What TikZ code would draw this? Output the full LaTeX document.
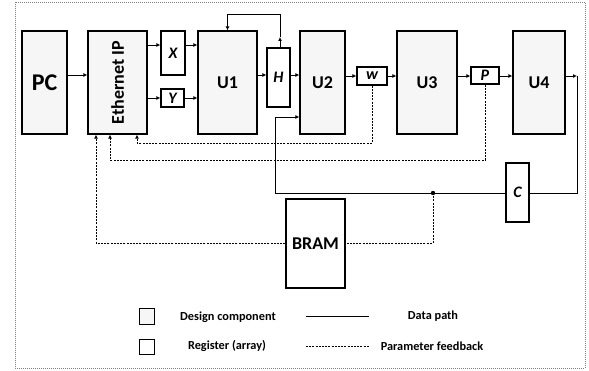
\documentclass[tikz,border=0pt]{standalone}
\usepackage{fontspec}
\setmainfont{Carlito}
\usetikzlibrary{arrows.meta}
\begin{document}
\begin{tikzpicture}[x=1pt,y=-1pt,
  box/.style={draw=black,line width=1.2pt,inner sep=0pt,font=\bfseries},
  comp/.style={box,fill=gray!7},
  reg/.style={box,fill=white,font=\bfseries\itshape\fontsize{16}{16}\selectfont},
  big/.style={font=\bfseries\fontsize{18}{18}\selectfont},
  conn/.style={line width=0.9pt,-{Latex[length=4pt,width=4pt]}},
  plain/.style={line width=0.9pt},
  fb/.style={line width=0.9pt,dash pattern=on 2pt off 1.2pt},
  fba/.style={fb,-{Latex[length=4pt,width=4pt]}},
  legtext/.style={font=\bfseries\fontsize{12.3}{12.3}\selectfont}]
\useasboundingbox (0,0) rectangle (589,371);
\draw[gray,line width=0.8pt,dash pattern=on 1pt off 1pt] (15,2) rectangle (585,368);

% components
\node[comp,minimum width=45pt,minimum height=103pt,font=\bfseries\fontsize{24}{24}\selectfont] (PC) at (44.5,82.5) {PC};
\node[comp,minimum width=59pt,minimum height=103pt] (Eth) at (117.5,82.5) {};
\node[rotate=90,font=\bfseries\fontsize{18}{18}\selectfont] (EthL) at (Eth.center) {Ethernet IP};
\node[reg,minimum width=24pt,minimum height=44pt] (X) at (173,53) {X};
\node[reg,minimum width=23pt,minimum height=18pt] (Y) at (172.5,98) {Y};
\node[comp,big,minimum width=59pt,minimum height=103pt] (U1) at (227.5,82.5) {U1};
\node[reg,minimum width=23pt,minimum height=59pt] (H) at (278.5,77.5) {H};
\node[comp,big,minimum width=45pt,minimum height=103pt] (U2) at (322.5,82.5) {U2};
\node[reg,minimum width=30pt,minimum height=18pt] (W) at (372,76) {w};
\node[comp,big,minimum width=60pt,minimum height=103pt] (U3) at (427,82.5) {U3};
\node[reg,minimum width=28pt,minimum height=17pt] (P) at (485,75.5) {P};
\node[comp,big,minimum width=52pt,minimum height=103pt] (U4) at (539,82.5) {U4};
\node[reg,minimum width=23pt,minimum height=59pt] (C) at (517.5,192.5) {C};
\node[box,fill=white,big,minimum width=59pt,minimum height=89pt] (BRAM) at (315.5,243.5) {BRAM};

% helper coordinates
\coordinate (yX) at (0,45);
\coordinate (yA) at (0,75);
\coordinate (yY) at (0,98);
\coordinate (yB) at (0,76);
\coordinate (Hup) at (280,37);
\coordinate (Htop) at (280,14);
\coordinate (out) at (577,76);
\coordinate (outdn) at (577,193);
\coordinate (lp) at (275,193);
\coordinate (lpu) at (275,117);
\coordinate (dot) at (433,193);
\coordinate (dotdn) at (433,243);
\coordinate (bl) at (96,243);
\coordinate (wd) at (372,143);
\coordinate (wl) at (137,143);
\coordinate (pd) at (485,160);
\coordinate (pl) at (110,160);

% data path
\draw[conn] (PC.east |- yA) -- (Eth.west |- yA);
\draw[conn] (Eth.east |- yX) -- (X.west |- yX);
\draw[conn] (X.east |- yX) -- (U1.west |- yX);
\draw[conn] (Eth.east |- yY) -- (Y.west |- yY);
\draw[conn] (Y.east |- yY) -- (U1.west |- yY);
\draw[conn] (U1.east |- yA) -- (H.west |- yA);
\draw[conn] (H.east |- yA) -- (U2.west |- yA);
\draw[conn] (H.north -| Hup) -- (Hup);
\draw[conn] (Hup) -- (Htop) -| (U1.north);
\draw[conn] (U2.east |- yB) -- (W.west |- yB);
\draw[conn] (W.east |- yB) -- (U3.west |- yB);
\draw[conn] (U3.east |- yB) -- (P.west |- yB);
\draw[conn] (P.east |- yB) -- (U4.west |- yB);
\draw[conn] (U4.east |- out) -- (out);
\draw[plain] (out) -- (outdn) -- (C.east |- outdn);
\draw[conn] (C.west |- lp) -- (lp) -- (lpu) -- (U2.west |- lpu);
\fill (dot) circle (2.2pt);

% parameter feedback
\draw[fb] (dot) -- (dotdn) -- (BRAM.east |- dotdn);
\draw[fba] (BRAM.west |- bl) -- (bl) -- (Eth.south -| bl);
\draw[fba] (W.south) -- (wd) -- (wl) -- (Eth.south -| wl);
\draw[fba] (P.south) -- (pd) -- (pl) -- (Eth.south -| pl);

% legend
\node[box,line width=1pt,fill=gray!7,minimum width=15pt,minimum height=16pt] (LG) at (146.5,317) {};
\node[box,line width=1pt,fill=white,minimum width=15pt,minimum height=15pt] (LR) at (146.5,346.5) {};
\node[legtext] (LGt) at (228,317) {Design component};
\node[legtext] (LRt) at (227,346) {Register (array)};
\coordinate (ls1) at (306,316);
\coordinate (ls2) at (369,316);
\coordinate (ld1) at (306,346);
\coordinate (ld2) at (369,346);
\draw[plain] (ls1) -- (ls2);
\draw[fb] (ld1) -- (ld2);
\node[legtext] (LDt) at (433,316) {Data path};
\node[legtext] (LFt) at (432,346) {Parameter feedback};
\end{tikzpicture}
\end{document}
